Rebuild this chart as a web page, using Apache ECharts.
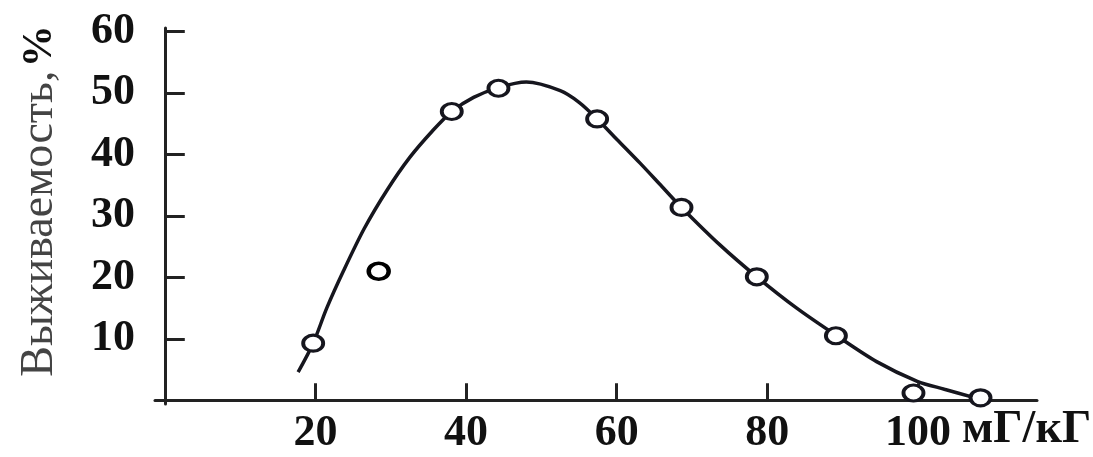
<!DOCTYPE html>
<html>
<head>
<meta charset="utf-8">
<script src="https://cdn.jsdelivr.net/npm/echarts@6/dist/echarts.min.js"></script>
<style>
html,body{margin:0;padding:0;background:#fff;}
#c{width:1093px;height:457px;}
</style>
</head>
<body>
<div id="c"></div>
<script>
// Measured points (dose mg/kg, survival %)
const pointX = [19.7, 38.1, 44.3, 57.4, 68.6, 78.6, 89.1, 99.4, 108.3];
const pointY = [9.3, 47.0, 50.8, 45.8, 31.4, 20.1, 10.5, 1.2, 0.4];
// Outlier point (not on the curve)
const outlierX = [28.4];
const outlierY = [21.0];
// Fitted curve
const curveX = [17.7, 19.7, 21.5, 23.7, 26.5, 29.5, 32.5, 35.5, 38.1, 41.0, 44.3, 48.0, 52.5, 55.0, 57.4, 60.0, 63.1, 66.0, 68.6, 73.7, 78.6, 83.9, 89.1, 94.5, 99.9, 103.5, 107.6];
const curveY = [4.6, 9.3, 15.0, 21.0, 28.0, 34.2, 39.5, 43.8, 47.0, 49.3, 50.9, 51.8, 50.4, 48.5, 45.8, 42.5, 38.6, 34.8, 31.4, 25.3, 20.1, 15.0, 10.6, 6.3, 3.1, 1.8, 0.4];
// Tick labels
const xTicks = [20, 40, 60, 80, 100];
const yTicks = [10, 20, 30, 40, 50, 60];
const xName = 'мГ/кГ';
const yName = 'Выживаемость,';

const zip = (a, b) => a.map((v, i) => [v, b[i]]);
const ink = '#16161e';
const serif = '"Liberation Serif", "Times New Roman", serif';

const chart = echarts.init(document.getElementById('c'), null, {renderer: 'canvas'});
chart.setOption({
  animation: false,
  backgroundColor: '#ffffff',
  grid: {left: 155, right: 56, top: 28, bottom: 53, outerBoundsMode: 'none'},
  xAxis: {
    type: 'value', min: -1.3, max: 115.8,
    name: xName, nameLocation: 'end', nameGap: -75,
    nameTextStyle: {fontFamily: serif, fontSize: 46, fontWeight: 'bold', color: '#111', verticalAlign: 'top', padding: [7, 0, 0, 0]},
    axisLine: {show: true, lineStyle: {color: '#222', width: 3}},
    axisTick: {show: true, inside: true, length: 17, customValues: xTicks, lineStyle: {color: '#222', width: 3}},
    axisLabel: {customValues: xTicks, fontFamily: serif, fontSize: 44, fontWeight: 'bold', color: '#111', margin: 8},
    splitLine: {show: false}
  },
  yAxis: {
    type: 'value', min: -0.6, max: 60.6,
    name: '{t|' + yName + '} {p|%}', nameLocation: 'middle', nameRotate: 90, nameGap: 92,
    nameTextStyle: {padding: [0, 0, 0, 30], rich: {
      t: {fontFamily: serif, fontSize: 46, color: '#444'},
      p: {fontFamily: serif, fontSize: 42, fontWeight: 'bold', color: '#111'}
    }},
    axisLine: {show: true, lineStyle: {color: '#222', width: 3}},
    axisTick: {show: true, inside: true, length: 20, customValues: yTicks, lineStyle: {color: '#222', width: 3}},
    axisLabel: {customValues: yTicks, fontFamily: serif, fontSize: 44, fontWeight: 'bold', color: '#111', margin: 20},
    splitLine: {show: false}
  },
  series: [
    {
      type: 'line', data: zip(curveX, curveY), smooth: 0.3, showSymbol: false,
      lineStyle: {color: ink, width: 3.5}, z: 2
    },
    {
      type: 'scatter', data: zip(pointX, pointY), symbol: 'circle', symbolSize: [20, 16],
      itemStyle: {color: '#fff', borderColor: ink, borderWidth: 3.5, opacity: 1}, z: 3
    },
    {
      type: 'scatter', data: zip(outlierX, outlierY), symbol: 'circle', symbolSize: [20, 16],
      itemStyle: {color: '#fff', borderColor: '#000', borderWidth: 4, opacity: 1}, z: 3
    }
  ]
});
</script>
</body>
</html>
